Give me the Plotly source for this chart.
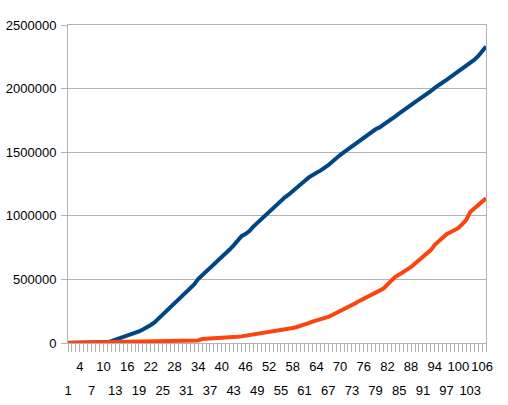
import plotly.graph_objects as go

categories = list(range(1, 108))

series_blue = [
    0, 0, 0, 100, 200, 400, 600, 1000, 2000, 4000,
    7000, 15000, 26000, 35000, 46000, 55000, 63000, 76000, 92000, 106000,
    122000, 142000, 163000, 192000, 226000, 255000, 287000, 313000, 341000, 368000,
    395000, 424000, 460000, 502000, 530000, 560000, 585000, 614000, 643000, 670000,
    700000, 735000, 768000, 805000, 840000, 856000, 880000, 915000, 945000, 975000,
    1005000, 1035000, 1065000, 1090000, 1115000, 1145000, 1168000, 1192000, 1220000, 1245000,
    1273000, 1300000, 1322000, 1338000, 1355000, 1375000, 1398000, 1425000, 1455000, 1478000,
    1500000, 1523000, 1545000, 1568000, 1592000, 1612000, 1635000, 1658000, 1680000, 1695000,
    1715000, 1740000, 1760000, 1782000, 1805000, 1825000, 1848000, 1870000, 1893000, 1915000,
    1935000, 1958000, 1980000, 2005000, 2030000, 2048000, 2068000, 2090000, 2112000, 2130000,
    2150000, 2175000, 2198000, 2225000, 2255000, 2292000, 2330000,
]

series_orange = [
    1000, 1500, 2000, 2500, 3000, 3500, 4000, 4500, 5000, 5500,
    6000, 6200, 6400, 6600, 6800, 7000, 7200, 7400, 7600, 7800,
    8000, 8200, 8400, 8600, 8800, 9000, 9200, 17000, 17500, 18000,
    18500, 19000, 19500, 20000, 32000, 33000, 34000, 35000, 36000, 37000,
    45000, 46000, 47000, 49000, 52000, 57000, 62000, 65000, 67000, 72000,
    78000, 84000, 90000, 95000, 102000, 106000, 112000, 118000, 126000, 134000,
    145000, 156000, 168000, 177000, 183000, 192000, 205000, 220000, 235000, 248000,
    262000, 278000, 296000, 315000, 333000, 348000, 366000, 380000, 392000, 405000,
    428000, 460000, 492000, 520000, 538000, 555000, 572000, 598000, 625000, 652000,
    677000, 698000, 730000, 772000, 800000, 828000, 855000, 870000, 886000, 905000,
    935000, 968000, 1030000, 1058000, 1088000, 1112000, 1137000,
]

top_row_ticks = list(range(4, 107, 6))
bottom_row_ticks = list(range(1, 104, 6))
y_ticks = [0, 500000, 1000000, 1500000, 2000000, 2500000]

GRID = "#b3b3b3"
FONT = dict(family="Liberation Sans, Arial, sans-serif", size=13, color="#000000")

fig = go.Figure()
fig.add_trace(go.Scatter(x=categories, y=series_blue, mode="lines",
                         line=dict(color="#004586", width=4), showlegend=False))
fig.add_trace(go.Scatter(x=categories, y=series_orange, mode="lines",
                         line=dict(color="#ff420e", width=4), showlegend=False))
# invisible trace for the second (bottom row) label axis
fig.add_trace(go.Scatter(x=[categories[0]], y=[0], xaxis="x2", mode="markers",
                         marker=dict(opacity=0), showlegend=False, hoverinfo="skip"))

fig.update_layout(
    width=508, height=405,
    margin=dict(l=68, r=22, t=25, b=62),
    paper_bgcolor="white", plot_bgcolor="white",
    font=FONT,
    xaxis=dict(
        range=[1, 107], tickmode="array", tickvals=top_row_ticks,
        ticktext=[str(v) for v in top_row_ticks], tickangle=0,
        ticks="outside", ticklen=8, tickcolor=GRID, tickwidth=1,
        minor=dict(tickmode="linear", tick0=1, dtick=1, ticks="outside",
                   ticklen=8, tickcolor=GRID, tickwidth=1, showgrid=False),
        showgrid=False, showline=True, linecolor=GRID, linewidth=1, mirror=True,
        zeroline=False, tickfont=FONT, ticklabelstandoff=3, automargin=False,
    ),
    xaxis2=dict(
        range=[1, 107], overlaying="x", anchor="y", side="bottom",
        tickmode="array", tickvals=bottom_row_ticks,
        ticktext=[str(v) for v in bottom_row_ticks], tickangle=0,
        ticks="", showgrid=False, showline=False, zeroline=False,
        tickfont=FONT, ticklabelstandoff=38, automargin=False,
    ),
    yaxis=dict(
        range=[0, 2500000], tickmode="array", tickvals=y_ticks,
        ticktext=[str(v) for v in y_ticks],
        ticks="outside", ticklen=6, tickcolor=GRID,
        showgrid=True, gridcolor=GRID, gridwidth=1,
        showline=True, linecolor=GRID, linewidth=1, mirror=True,
        zeroline=False, tickfont=FONT, ticklabelstandoff=2, automargin=False,
    ),
)

fig.write_html("out.html", config={"displayModeBar": False},
               post_script="document.body.style.margin='0px';")
